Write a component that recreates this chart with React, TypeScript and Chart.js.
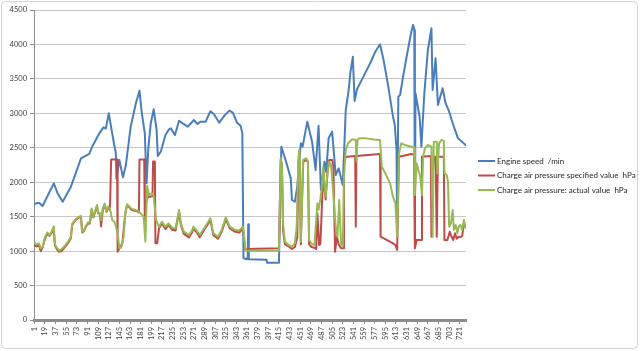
import React, { useEffect, useRef } from "react";
import { Chart, registerables } from "chart.js";

Chart.register(...registerables);

// ---- Data -------------------------------------------------------------
const X_TICK_LABELS = [
  1, 19, 37, 55, 73, 91, 109, 127, 145, 163, 181, 199, 217, 235, 253, 271, 289, 307, 325, 343,
  361, 379, 397, 415, 433, 451, 469, 487, 505, 523, 541, 559, 577, 595, 613, 631, 649, 667, 685,
  703, 721,
];
const CATEGORY_FIRST = 1;
const CATEGORY_LAST = 731;
const Y_MIN = 0;
const Y_MAX = 4500;
const Y_STEP = 500;

const SERIES_NAMES = [
  "Engine speed  /min",
  "Charge air pressure specified value  hPa",
  "Charge air pressure: actual value  hPa",
];

// [sample index, value]
const engineSpeed: [number, number][] = [
  [1, 1684], [9, 1703], [15, 1655], [34, 1984], [40, 1848], [49, 1717], [63, 1935], [68, 2056],
  [80, 2347], [94, 2410], [99, 2516], [111, 2710], [118, 2797], [122, 2780], [127, 3000],
  [135, 2600], [139, 2420], [140, 2050], [145, 2323], [151, 2071], [156, 2250], [164, 2800],
  [173, 3150], [179, 3329], [183, 3000], [188, 2710], [191, 1984], [194, 2500], [198, 2850],
  [203, 3058], [208, 2758], [210, 2380], [215, 2443], [223, 2686], [229, 2768], [232, 2783],
  [235, 2740], [239, 2686], [246, 2893], [252, 2855], [261, 2806], [271, 2903], [277, 2845],
  [282, 2879], [291, 2879], [299, 3030], [305, 2986], [314, 2864], [323, 2970], [331, 3039],
  [337, 3010], [344, 2864], [350, 2820], [353, 2710], [355, 896], [362, 881], [363, 1390],
  [364, 881], [394, 875], [395, 832], [415, 832], [419, 2516], [427, 2300], [435, 2056],
  [437, 1742], [442, 1717], [446, 1935], [452, 2565], [455, 2516], [463, 2879], [471, 2588],
  [477, 2177], [482, 2820], [486, 1887], [492, 2298], [495, 2150], [499, 2637], [505, 2734],
  [511, 2105], [516, 2202], [523, 1960], [528, 3048], [533, 3339], [536, 3600], [540, 3820],
  [543, 3180], [547, 3350], [556, 3500], [563, 3620], [569, 3720], [578, 3895], [586, 4002],
  [592, 3774], [600, 3387], [608, 2951], [611, 2831], [614, 2468], [615, 1200], [617, 3242],
  [620, 3266], [625, 3532], [631, 3822], [639, 4185], [642, 4282], [644, 4210], [645, 1150],
  [646, 3291], [653, 2951], [656, 2516], [661, 3291], [667, 3920], [673, 4234], [675, 3339],
  [680, 3798], [684, 3121], [692, 3363], [697, 3146], [702, 3048], [710, 2831], [718, 2637],
  [731, 2540],
];

const chargeSpecified: [number, number][] = [
  [1, 1080], [5, 1070], [9, 1080], [12, 1000], [15, 1050], [19, 1180], [23, 1250], [27, 1220],
  [31, 1280], [34, 1290], [36, 1080], [39, 1030], [43, 990], [47, 1000], [51, 1040], [55, 1080],
  [59, 1130], [63, 1190], [65, 1380], [68, 1420], [72, 1460], [77, 1490], [80, 1500], [82, 1270],
  [85, 1290], [88, 1350], [92, 1400], [95, 1400], [98, 1600], [101, 1490], [104, 1570],
  [107, 1650], [109, 1550], [112, 1540], [114, 1360], [117, 1600], [120, 1670], [123, 1570],
  [126, 1630], [129, 1600], [131, 2330], [141, 2330], [142, 990], [145, 1040], [150, 1113],
  [155, 1548], [158, 1669], [166, 1597], [175, 1580], [178, 1560], [179, 2330], [187, 2330],
  [188, 1452], [190, 1700], [193, 1790], [198, 1790], [201, 1800], [202, 2300], [205, 2300],
  [206, 1113], [209, 1113], [212, 1330], [217, 1400], [223, 1320], [228, 1380], [234, 1310],
  [240, 1300], [246, 1570], [249, 1380], [254, 1250], [263, 1200], [268, 1270], [270, 1330],
  [275, 1280], [281, 1200], [286, 1270], [290, 1330], [299, 1450], [304, 1230], [312, 1180],
  [318, 1280], [325, 1460], [332, 1330], [341, 1280], [348, 1270], [351, 1300], [354, 1330],
  [358, 1020], [360, 1030], [415, 1040], [418, 2330], [420, 2250], [422, 1300], [425, 1100],
  [431, 1070], [437, 1030], [442, 1060], [446, 1200], [448, 2320], [450, 2300], [452, 1100],
  [456, 2300], [461, 2320], [464, 2300], [466, 1100], [470, 1060], [475, 1050], [478, 1030],
  [480, 1550], [483, 1089], [485, 1100], [487, 1500], [490, 2200], [492, 1900], [494, 1750],
  [497, 2129], [500, 2323], [505, 2323], [507, 2250], [510, 991], [513, 1209], [516, 1100],
  [520, 1041], [524, 1041], [525, 2347], [531, 2371], [544, 2380], [545, 1354], [546, 2380],
  [586, 2410], [587, 1209], [608, 1113], [612, 1089], [615, 1016], [618, 2371], [639, 2410],
  [644, 2400], [645, 1041], [648, 1161], [656, 1161], [657, 2371], [672, 2380], [673, 1209],
  [675, 2080], [677, 2371], [680, 2371], [682, 1209], [684, 2371], [694, 2371], [695, 1161],
  [700, 1161], [704, 1282], [707, 1209], [710, 1161], [713, 1258], [716, 1180], [719, 1209],
  [722, 1200], [725, 1220], [728, 1403], [731, 1354],
];

const chargeActual: [number, number][] = [
  [1, 1120], [5, 1100], [9, 1110], [12, 1040], [15, 1060], [19, 1200], [23, 1270], [27, 1230],
  [31, 1300], [34, 1360], [36, 1100], [39, 1050], [43, 1010], [47, 1030], [51, 1060], [55, 1100],
  [59, 1150], [63, 1210], [65, 1400], [68, 1430], [72, 1470], [77, 1500], [80, 1510], [82, 1280],
  [85, 1300], [88, 1360], [92, 1420], [95, 1410], [98, 1620], [101, 1500], [104, 1580],
  [107, 1670], [109, 1560], [112, 1550], [114, 1450], [117, 1620], [120, 1690], [123, 1580],
  [126, 1650], [129, 1620], [133, 1450], [137, 1420], [140, 1330], [142, 1250], [145, 1045],
  [148, 1050], [152, 1200], [155, 1550], [158, 1680], [166, 1610], [175, 1590], [180, 1560],
  [186, 1500], [189, 1137], [192, 1945], [195, 1814], [200, 1838], [203, 1800], [207, 1452],
  [212, 1354], [217, 1427], [223, 1354], [228, 1403], [234, 1340], [240, 1330], [246, 1597],
  [249, 1403], [254, 1282], [263, 1234], [268, 1300], [270, 1354], [275, 1306], [281, 1234],
  [286, 1300], [290, 1354], [299, 1476], [304, 1258], [312, 1209], [318, 1306], [325, 1490],
  [332, 1354], [341, 1306], [348, 1300], [351, 1330], [354, 1354], [358, 1041], [360, 1006],
  [415, 1006], [418, 2350], [420, 2250], [422, 1400], [425, 1140], [431, 1090], [437, 1064],
  [442, 1113], [445, 1354], [448, 2347], [449, 2468], [450, 2300], [452, 1137], [456, 2323],
  [461, 2347], [464, 2300], [466, 1161], [470, 1110], [475, 1089], [480, 1694], [482, 1600],
  [485, 1750], [487, 1887], [490, 2225], [492, 1950], [494, 1790], [497, 2129], [500, 2298],
  [503, 2250], [506, 1950], [508, 1700], [511, 1354], [514, 1209], [517, 1742], [520, 1113],
  [523, 1064], [525, 2080], [528, 2468], [532, 2565], [539, 2623], [545, 2613], [546, 2300],
  [548, 2620], [551, 2637], [560, 2640], [575, 2620], [586, 2613], [589, 2225], [595, 2129],
  [603, 1984], [608, 1790], [612, 1694], [615, 1209], [618, 2419], [622, 2565], [628, 2540],
  [639, 2516], [644, 2500], [645, 1814], [648, 2274], [654, 2080], [657, 1814], [659, 2371],
  [662, 2492], [667, 2540], [673, 2516], [675, 1209], [677, 2588], [682, 2588], [683, 2129],
  [686, 2565], [690, 2613], [694, 2600], [695, 2129], [699, 2100], [701, 2008], [703, 1354],
  [706, 1400], [709, 1597], [711, 1306], [714, 1380], [717, 1258], [719, 1354], [722, 1380],
  [725, 1306], [728, 1452], [731, 1331],
];

// ---- Styling ----------------------------------------------------------
const COLORS = ["#4A7EBB", "#BE4B48", "#98B954"];
const FONT_FAMILY = "Lato, 'Liberation Sans', sans-serif";
const TEXT_COLOR = "#404040";
const AXIS_COLOR = "#8c8c8c";
const GRID_COLOR = "#c8c8c8";

export default function App() {
  const canvasRef = useRef<HTMLCanvasElement | null>(null);

  useEffect(() => {
    document.body.style.margin = "0";
    const canvas = canvasRef.current;
    if (!canvas) return;

    const toPoints = (arr: [number, number][]) => arr.map(([x, y]) => ({ x, y }));

    const framePlugin = {
      id: "excelFrame",
      beforeDraw(chart: any) {
        const { ctx, width, height } = chart;
        ctx.save();
        ctx.fillStyle = "#ffffff";
        ctx.fillRect(0, 0, width, height);
        ctx.strokeStyle = "#d4d4d4";
        ctx.lineWidth = 1;
        ctx.beginPath();
        (ctx as any).roundRect(1.5, 1.5, width - 4, height - 4, 4);
        ctx.stroke();
        ctx.restore();
      },
    };

    const legendPlugin = {
      id: "excelLegend",
      afterDraw(chart: any) {
        const { ctx, chartArea } = chart;
        const x0 = chartArea.right + 12;
        const y0 = 161;
        ctx.save();
        ctx.font = `8px ${FONT_FAMILY}`;
        ctx.textBaseline = "middle";
        ctx.textAlign = "left";
        chart.data.datasets.forEach((ds: any, i: number) => {
          const y = y0 + i * 14.5;
          ctx.strokeStyle = ds.borderColor;
          ctx.lineWidth = 2;
          ctx.beginPath();
          ctx.moveTo(x0, y);
          ctx.lineTo(x0 + 17, y);
          ctx.stroke();
          ctx.fillStyle = "#262626";
          ctx.fillText(ds.label, x0 + 19, y);
        });
        ctx.restore();
      },
    };

    const chart = new Chart(canvas, {
      type: "line",
      data: {
        datasets: [
          {
            label: SERIES_NAMES[0],
            data: toPoints(engineSpeed),
            borderColor: COLORS[0],
            backgroundColor: COLORS[0],
            order: 2,
          },
          {
            label: SERIES_NAMES[1],
            data: toPoints(chargeSpecified),
            borderColor: COLORS[1],
            backgroundColor: COLORS[1],
            order: 1,
          },
          {
            label: SERIES_NAMES[2],
            data: toPoints(chargeActual),
            borderColor: COLORS[2],
            backgroundColor: COLORS[2],
            order: 0,
          },
        ],
      },
      options: {
        responsive: false,
        animation: false,
        devicePixelRatio: 1,
        layout: { padding: { left: 0, top: 10, right: 174, bottom: 0 } },
        elements: {
          point: { radius: 0, hoverRadius: 0 },
          line: { tension: 0, borderWidth: 2, borderJoinStyle: "round", borderCapStyle: "round" },
        },
        plugins: {
          legend: { display: false },
          tooltip: { enabled: false },
        },
        scales: {
          x: {
            type: "linear",
            min: CATEGORY_FIRST - 0.5,
            max: CATEGORY_LAST + 0.5,
            afterBuildTicks: (scale: any) => {
              scale.ticks = X_TICK_LABELS.map((v) => ({ value: v }));
            },
            afterFit: (scale: any) => {
              scale.height = 31;
            },
            grid: {
              display: true,
              drawOnChartArea: false,
              tickLength: 4,
              color: AXIS_COLOR,
            },
            border: { color: AXIS_COLOR, width: 3 },
            ticks: {
              autoSkip: false,
              maxRotation: 90,
              minRotation: 90,
              padding: 3,
              color: TEXT_COLOR,
              font: { family: FONT_FAMILY, size: 7.5 },
              callback: (v: any) => String(v),
            },
          },
          y: {
            min: Y_MIN,
            max: Y_MAX,
            afterFit: (scale: any) => {
              scale.width = 34;
            },
            grid: { color: GRID_COLOR, tickLength: 4, tickColor: AXIS_COLOR },
            border: { color: AXIS_COLOR, width: 1 },
            ticks: {
              stepSize: Y_STEP,
              padding: 3,
              color: TEXT_COLOR,
              font: { family: FONT_FAMILY, size: 7.5 },
              callback: (v: any) => String(v),
            },
          },
        },
      } as any,
      plugins: [framePlugin, legendPlugin],
    });

    return () => chart.destroy();
  }, []);

  return (
    <canvas ref={canvasRef} width={640} height={351} style={{ display: "block" }} />
  );
}
